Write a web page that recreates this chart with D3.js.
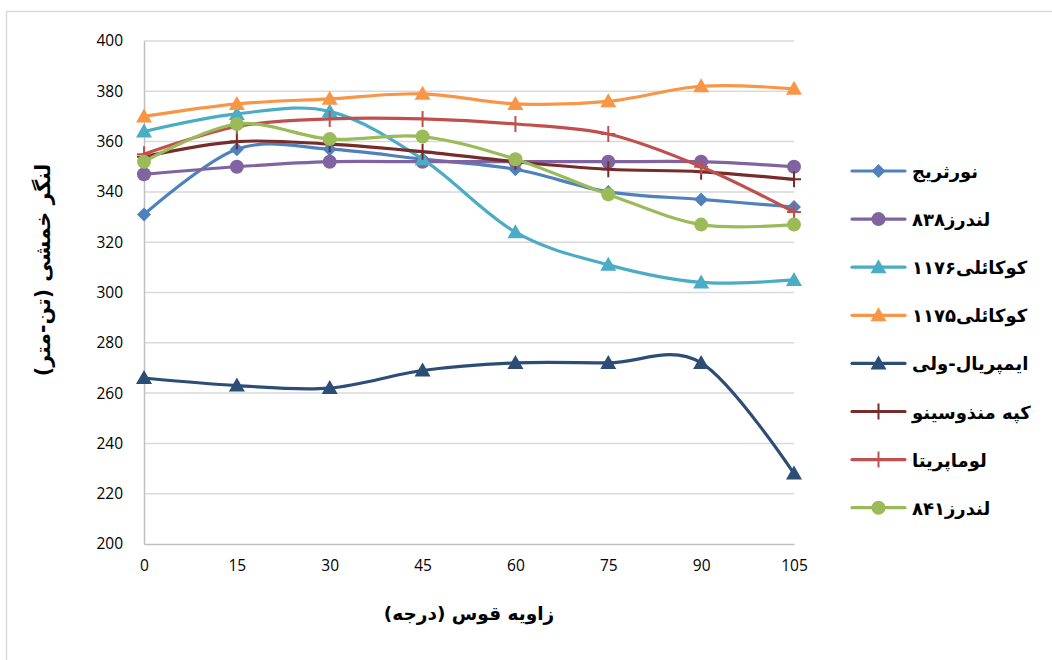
<!DOCTYPE html>
<html><head><meta charset="utf-8">
<script src="https://cdn.jsdelivr.net/npm/d3@7"></script>
<style>
html,body{margin:0;padding:0;background:#fff;}
svg{display:block;}
</style></head>
<body>
<svg id="c" width="1052" height="660"></svg>
<script>
const angles = [0, 15, 30, 45, 60, 75, 90, 105];
const yTicks = [200, 220, 240, 260, 280, 300, 320, 340, 360, 380, 400];
const seriesNames = ["نورثریج", "لندرز۸۳۸", "کوکائلی۱۱۷۶", "کوکائلی۱۱۷۵", "ایمپریال-ولی", "کپه منذوسینو", "لوماپریتا", "لندرز۸۴۱"];
const northridge = [331, 357, 357, 353, 349, 340, 337, 334];
const landers838 = [347, 350, 352, 352, 352, 352, 352, 350];
const kocaeli1176 = [364, 371, 372, 353, 324, 311, 304, 305];
const kocaeli1175 = [370, 375, 377, 379, 375, 376, 382, 381];
const imperial = [266, 263, 262, 269, 272, 272, 272, 228];
const capeMendocino = [354, 360, 359, 356, 352, 349, 348, 345];
const lomaPrieta = [355, 366, 369, 369, 367, 363, 350, 332];
const landers841 = [352, 367, 361, 362, 353, 339, 327, 327];
const xTitle = "زاویه قوس (درجه)";
const yTitle = "لنگر خمشی (تن-متر)";

const colors = ["#4F81BD", "#8064A2", "#4BACC6", "#F79646", "#2C4D75", "#772C2A", "#C0504D", "#9BBB59"];
const markers = ["diamond", "circle", "triangle", "triangle", "triangle", "plus", "plus", "circle"];
const values = [northridge, landers838, kocaeli1176, kocaeli1175, imperial, capeMendocino, lomaPrieta, landers841];

const svg = d3.select("#c");
svg.append("rect").attr("x", 6.5).attr("y", 11.5).attr("width", 1100).attr("height", 700)
  .attr("fill", "#fff").attr("stroke", "#d9d9d9").attr("stroke-width", 1.5);

const L = 144, R = 794, T = 41, B = 544;
const x = d3.scaleLinear().domain([0, 105]).range([L, R]);
const y = d3.scaleLinear().domain([200, 400]).range([B, T]);

svg.append("g").selectAll("line").data(yTicks.filter(d => d > 200)).join("line")
  .attr("x1", L).attr("x2", R).attr("y1", d => y(d)).attr("y2", d => y(d))
  .attr("stroke", "#d9d9d9").attr("stroke-width", 1.5);

const tickFont = "'Open Sans', 'Liberation Sans', sans-serif";
const yAxis = d3.axisLeft(y).tickValues(yTicks).tickSize(0).tickPadding(21);
const gy = svg.append("g").attr("transform", `translate(${L},0)`).call(yAxis);
gy.select(".domain").attr("stroke", "#bfbfbf").attr("stroke-width", 1.5);
gy.selectAll("text").attr("font-family", tickFont).attr("font-size", 15.5).attr("fill", "#000");

const xAxis = d3.axisBottom(x).tickValues(angles).tickSize(0).tickPadding(16);
const gx = svg.append("g").attr("transform", `translate(0,${B})`).call(xAxis);
gx.select(".domain").attr("stroke", "#bfbfbf").attr("stroke-width", 1.5);
gx.selectAll("text").attr("font-family", tickFont).attr("font-size", 15.5).attr("fill", "#000");

function drawMarker(g, type, cx, cy, color) {
  if (type === "circle") {
    g.append("circle").attr("cx", cx).attr("cy", cy).attr("r", 7).attr("fill", color);
  } else if (type === "diamond") {
    const s = 7;
    g.append("path").attr("d", `M${cx},${cy - s}L${cx + s},${cy}L${cx},${cy + s}L${cx - s},${cy}Z`).attr("fill", color);
  } else if (type === "triangle") {
    g.append("path").attr("d", `M${cx},${cy - 8}L${cx + 8},${cy + 6}L${cx - 8},${cy + 6}Z`).attr("fill", color);
  } else if (type === "plus") {
    g.append("path").attr("d", `M${cx - 7},${cy}L${cx + 7},${cy}M${cx},${cy - 8}L${cx},${cy + 8}`)
      .attr("stroke", color).attr("stroke-width", 2);
  }
}

const line = d3.line().x((d, i) => x(angles[i])).y(d => y(d)).curve(d3.curveCatmullRom.alpha(0));
const plot = svg.append("g");
values.forEach((vals, k) => {
  const g = plot.append("g");
  g.append("path").attr("d", line(vals)).attr("fill", "none").attr("stroke", colors[k])
    .attr("stroke-width", 3.2).attr("stroke-linejoin", "round").attr("stroke-linecap", "round");
  vals.forEach((v, i) => drawMarker(g, markers[k], x(angles[i]), y(v), colors[k]));
});

const arFont = "'DejaVu Sans', sans-serif";
const lg = svg.append("g");
seriesNames.forEach((name, k) => {
  const cy = 171 + k * 48.1;
  lg.append("line").attr("x1", 852).attr("x2", 905).attr("y1", cy).attr("y2", cy)
    .attr("stroke", colors[k]).attr("stroke-width", 3.2).attr("stroke-linecap", "round");
  drawMarker(lg, markers[k], 878.5, cy, colors[k]);
  lg.append("text").attr("x", 912).attr("y", cy + 7).text(name)
    .attr("font-family", arFont).attr("font-weight", "bold")
    .attr("font-size", 18).attr("fill", "#000");
});

svg.append("text").attr("x", (L + R) / 2).attr("y", 620).attr("text-anchor", "middle").text(xTitle)
  .attr("font-family", arFont).attr("font-weight", "bold").attr("font-size", 18.5).attr("fill", "#000");
svg.append("text").attr("transform", "translate(50,270) rotate(-90)").attr("text-anchor", "middle").text(yTitle)
  .attr("font-family", arFont).attr("font-weight", "bold").attr("font-size", 20.5).attr("fill", "#000");
</script>
</body></html>
